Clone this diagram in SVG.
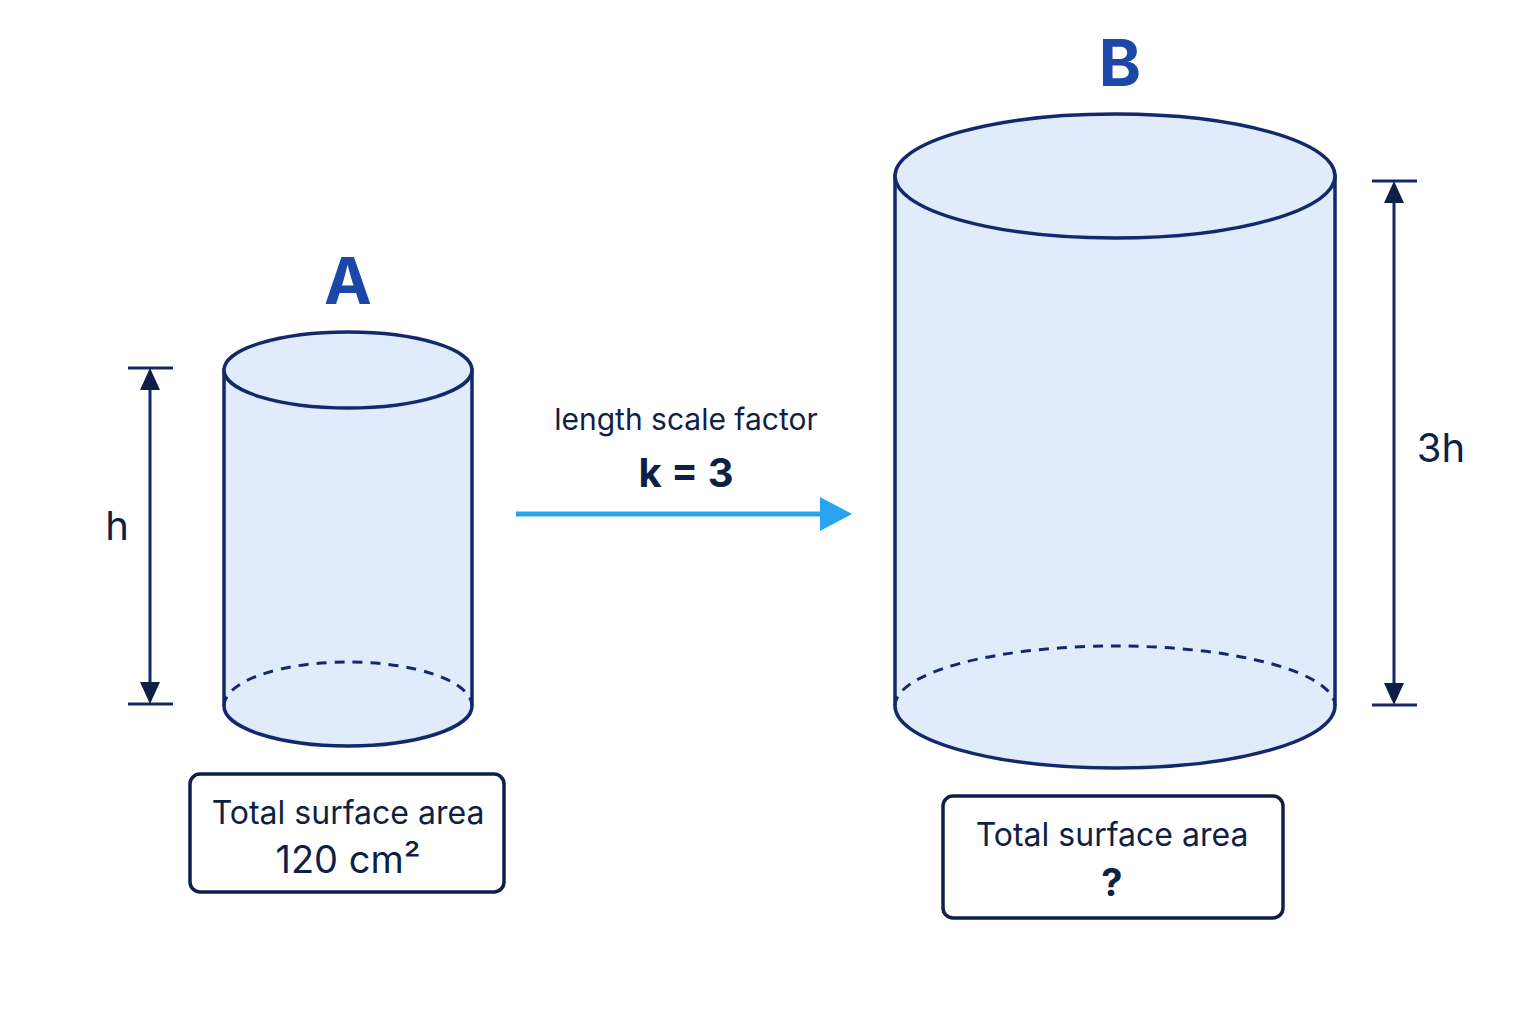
<svg xmlns="http://www.w3.org/2000/svg" width="1536" height="1024" viewBox="0 0 1536 1024">
<defs>
<style>
.cyl{fill:#e0ecfb;stroke:#13296b;stroke-width:3.5}
.dash{fill:none;stroke:#13296b;stroke-width:3;stroke-dasharray:10 8}
.dim{stroke:#13296b;stroke-width:3;fill:none}
.t{font-family:"Inter","Liberation Sans",sans-serif;fill:#0f1f45;text-anchor:middle}
.big{font-family:"Inter","Liberation Sans",sans-serif;font-weight:bold;fill:#1a47a8;text-anchor:middle;font-size:64px}
.box{fill:#fff;stroke:#0f1f45;stroke-width:3.5}
</style>
<marker id="ah" viewBox="0 0 10 10" refX="5" refY="10" markerWidth="7" markerHeight="8" orient="auto-start-reverse" markerUnits="userSpaceOnUse"><path d="M0 0L0 0" /></marker>
</defs>
<rect width="1536" height="1024" fill="#fff"/>
<g id="cylA">
<path class="cyl" d="M224 370 V706 A124 40 0 0 0 472 706 V370 Z"/>
<path class="dash" d="M224 706 A124 44 0 0 1 472 706"/>
<ellipse class="cyl" cx="348" cy="370" rx="124" ry="38"/>
<text class="big" x="348" y="304">A</text>
</g>
<g id="cylB">
<path class="cyl" d="M895 176 V706 A220 62 0 0 0 1335 706 V176 Z"/>
<path class="dash" d="M895 706 A220 60 0 0 1 1335 706"/>
<ellipse class="cyl" cx="1115" cy="176" rx="220" ry="62"/>
<text class="big" x="1120" y="86">B</text>
</g>
<g id="dimA">
<path class="dim" d="M128 368H173M128 704H173M150 388V684"/>
<path d="M150 368L140 390H160Z M150 704L140 682H160Z" fill="#0f1f45"/>
<text class="t" x="117" y="540" font-size="40">h</text>
</g>
<g id="dimB">
<path class="dim" d="M1372 181H1417M1372 705H1417M1394 200V686"/>
<path d="M1394 181L1384 203H1404Z M1394 705L1384 683H1404Z" fill="#0f1f45"/>
<text class="t" x="1441" y="462" font-size="40">3h</text>
</g>
<g id="connectors">
<line x1="516" y1="514" x2="822" y2="514" stroke="#29a3f0" stroke-width="5"/>
<path d="M852 514L820 497V531Z" fill="#29a3f0"/>
<text class="t" x="686" y="430" font-size="30">length scale factor</text>
<text class="t" x="686" y="487" font-size="40" font-weight="bold">k = 3</text>
</g>
<g id="boxA">
<rect class="box" x="190" y="774" width="314" height="118" rx="10"/>
<text class="t" x="348" y="824" font-size="32">Total surface area</text>
<text class="t" x="348" y="873" font-size="38">120 cm²</text>
</g>
<g id="boxB">
<rect class="box" x="943" y="796" width="340" height="122" rx="10"/>
<text class="t" x="1112" y="846" font-size="32">Total surface area</text>
<text class="t" x="1112" y="896" font-size="38" font-weight="bold">?</text>
</g>
</svg>
